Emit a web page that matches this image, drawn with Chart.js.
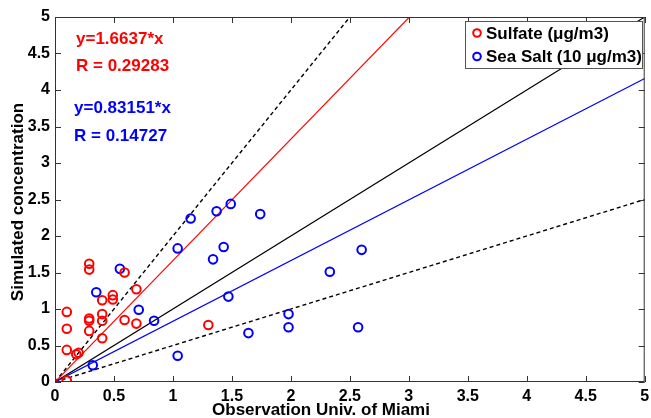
<!DOCTYPE html>
<html><head><meta charset="utf-8">
<script src="https://cdn.jsdelivr.net/npm/chart.js@4"></script>
<style>html,body{margin:0;padding:0;background:#fff;}#wrap{width:651px;height:418px;}</style>
</head><body><div id="wrap"><canvas id="c" width="651" height="418"></canvas></div>
<script>
const sulfateObs = [0.1,0.1,0.1,0.1,0.18,0.2,0.29,0.29,0.29,0.29,0.29,0.40,0.40,0.40,0.40,0.49,0.49,0.59,0.59,0.69,0.69,1.30];
const sulfateSim = [0.02,0.44,0.73,0.96,0.38,0.40,1.62,1.54,0.87,0.84,0.70,1.12,0.93,0.84,0.60,1.19,1.13,1.50,0.85,1.27,0.80,0.78];
const seaSaltObs = [0.32,0.35,0.55,0.71,0.84,1.04,1.04,1.15,1.37,1.49,1.74,1.43,1.34,1.47,1.64,1.98,1.98,2.33,2.57,2.60];
const seaSaltSim = [0.23,1.23,1.55,0.99,0.84,0.36,1.83,2.24,2.34,2.44,2.30,1.85,1.68,1.17,0.67,0.93,0.75,1.51,0.75,1.81];
const sulfateSlope = 1.6637, sulfateR = 0.29283;
const seaSaltSlope = 0.83151, seaSaltR = 0.14727;
const refSlopes = [1, 2, 0.5];
const axisTicks = [0,0.5,1,1.5,2,2.5,3,3.5,4,4.5,5];
const seriesLabels = ['Sulfate (\u03bcg/m3)', 'Sea Salt (10 \u03bcg/m3)'];
const xTitle = 'Observation Univ. of Miami';
const yTitle = 'Simulated concentration';

const RED = '#ff0000', BLUE = '#0000ff';
const FONT = '"Liberation Sans", Arial, Helvetica, sans-serif';
const pts = (xs, ys) => xs.map((x,i)=>({x, y: ys[i]}));
const line = s => [{x:0,y:0},{x:5,y:5*s}];

const deco = {
  id: 'deco',
  afterDatasetsDraw(chart) {
    const ctx = chart.ctx, a = chart.chartArea;
    const xs = chart.scales.x, ys = chart.scales.y;
    ctx.save();
    ctx.strokeStyle = '#333'; ctx.lineWidth = 1;
    ctx.strokeRect(a.left+0.5, a.top+0.5, a.right-a.left-1, a.bottom-a.top-1);
    ctx.beginPath();
    axisTicks.forEach(v => {
      const px = Math.round(xs.getPixelForValue(v))+0.5;
      ctx.moveTo(px, a.bottom); ctx.lineTo(px, a.bottom-6);
      ctx.moveTo(px, a.top); ctx.lineTo(px, a.top+6);
      const py = Math.round(ys.getPixelForValue(v))+0.5;
      ctx.moveTo(a.left, py); ctx.lineTo(a.left+6, py);
      ctx.moveTo(a.right, py); ctx.lineTo(a.right-6, py);
    });
    ctx.stroke();
    ctx.font = 'bold 17px ' + FONT;
    ctx.textBaseline = 'middle'; ctx.textAlign = 'left';
    ctx.fillStyle = RED;
    ctx.fillText('y=' + sulfateSlope + '*x', 76, 39);
    ctx.fillText('R = ' + sulfateR, 76, 66);
    ctx.fillStyle = BLUE;
    ctx.fillText('y=' + seaSaltSlope + '*x', 74, 108);
    ctx.fillText('R = ' + seaSaltR, 74, 136);
    const lx = 465, ly = 21, lw = 177, lh = 47;
    ctx.fillStyle = '#fff'; ctx.fillRect(lx, ly, lw, lh);
    ctx.strokeStyle = '#555'; ctx.strokeRect(lx+0.5, ly+0.5, lw, lh);
    const cols = [RED, BLUE];
    seriesLabels.forEach((t,i) => {
      const cy = ly + 12 + i*23.5;
      ctx.beginPath(); ctx.strokeStyle = cols[i]; ctx.lineWidth = 2;
      ctx.arc(lx+12, cy, 3.8, 0, Math.PI*2); ctx.stroke();
      ctx.fillStyle = '#000'; ctx.font = 'bold 17px ' + FONT;
      ctx.fillText(t, lx+21, cy+1);
    });
    ctx.fillStyle = '#000'; ctx.font = 'bold 17px ' + FONT; ctx.textAlign = 'center';
    ctx.textBaseline = 'alphabetic';
    ctx.fillText(xTitle, 321, 415);
    ctx.translate(23, 202); ctx.rotate(-Math.PI/2);
    ctx.fillText(yTitle, 0, 0);
    ctx.restore();
  }
};

const scatterStyle = c => ({type:'scatter', showLine:false, borderColor:c, backgroundColor:'rgba(0,0,0,0)', pointRadius:4.3, pointBorderWidth:2, pointHoverRadius:4.3, order:0});
const lineStyle = (c, dash) => ({type:'line', showLine:true, borderColor:c, borderWidth: dash ? 1.4 : 1.2, borderDash: dash ? [4,3] : [], pointRadius:0, fill:false, order:1});
const fmt = v => String(v);

new Chart(document.getElementById('c'), {
  type: 'scatter',
  data: { datasets: [
    Object.assign({label: seriesLabels[0], data: pts(sulfateObs, sulfateSim)}, scatterStyle(RED)),
    Object.assign({label: seriesLabels[1], data: pts(seaSaltObs, seaSaltSim)}, scatterStyle(BLUE)),
    Object.assign({label:'fit1', data: line(sulfateSlope)}, lineStyle(RED)),
    Object.assign({label:'fit2', data: line(seaSaltSlope)}, lineStyle(BLUE)),
    Object.assign({label:'1:1', data: line(refSlopes[0])}, lineStyle('#000')),
    Object.assign({label:'2:1', data: line(refSlopes[1])}, lineStyle('#000', true)),
    Object.assign({label:'1:2', data: line(refSlopes[2])}, lineStyle('#000', true)),
  ]},
  options: {
    responsive: false, animation: false, devicePixelRatio: 1,
    layout: { padding: { left: 0, right: 3, top: 17, bottom: 0 } },
    plugins: { legend: {display:false}, tooltip: {enabled:false} },
    scales: {
      x: { type:'linear', min:0, max:5,
        afterBuildTicks: s => { s.ticks = axisTicks.map(v=>({value:v})); },
        afterFit: s => { s.height = 36; s.paddingLeft = 0; s.paddingRight = 0; },
        grid: {display:false, drawTicks:false}, border: {display:false},
        ticks: { callback: fmt, color:'#000', font:{family:FONT, size:16, weight:'bold'}, padding:5, maxRotation:0, autoSkip:false } },
      y: { type:'linear', min:0, max:5,
        afterBuildTicks: s => { s.ticks = axisTicks.map(v=>({value:v})); },
        afterFit: s => { s.width = 55; s.paddingTop = 0; s.paddingBottom = 0; },
        grid: {display:false, drawTicks:false}, border: {display:false},
        ticks: { callback: fmt, color:'#000', font:{family:FONT, size:16, weight:'bold'}, padding:5, autoSkip:false } }
    }
  },
  plugins: [deco]
});
</script></body></html>
